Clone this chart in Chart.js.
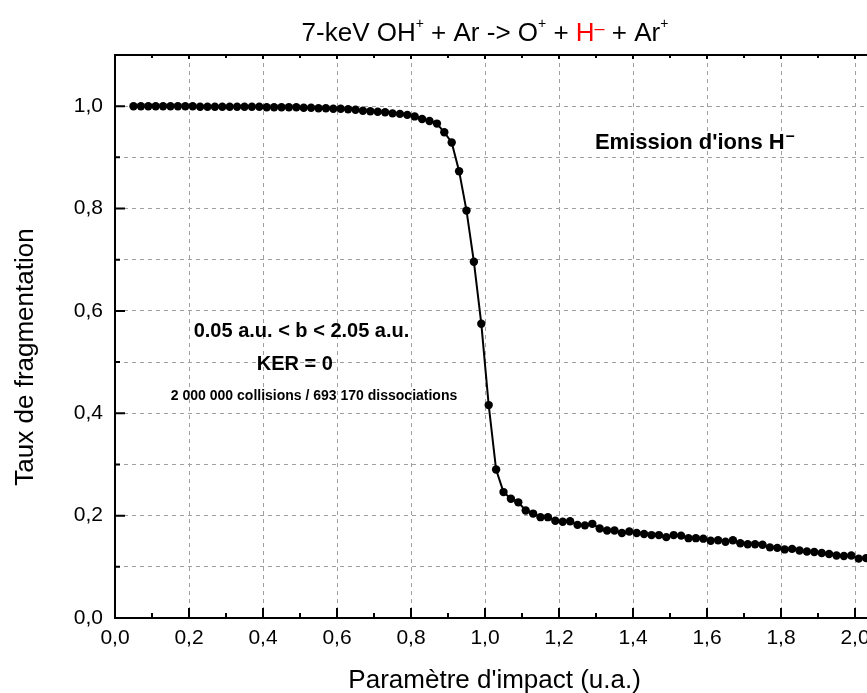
<!DOCTYPE html>
<html>
<head>
<meta charset="utf-8">
<script src="https://cdn.jsdelivr.net/npm/chart.js@4"></script>
<style>
  html, body { margin: 0; padding: 0; background: #fff; overflow: hidden; }
  canvas { display: block; }
</style>
</head>
<body>
<canvas id="chart" width="920" height="693"></canvas>
<script>
// paramètre d'impact b (u.a.)
const bValues = [
  0.05, 0.07, 0.09, 0.11, 0.13, 0.15, 0.17, 0.19, 0.21, 0.23,
  0.25, 0.27, 0.29, 0.31, 0.33, 0.35, 0.37, 0.39, 0.41, 0.43,
  0.45, 0.47, 0.49, 0.51, 0.53, 0.55, 0.57, 0.59, 0.61, 0.63,
  0.65, 0.67, 0.69, 0.71, 0.73, 0.75, 0.77, 0.79, 0.81, 0.83,
  0.85, 0.87, 0.89, 0.91, 0.93, 0.95, 0.97, 0.99, 1.01, 1.03,
  1.05, 1.07, 1.09, 1.11, 1.13, 1.15, 1.17, 1.19, 1.21, 1.23,
  1.25, 1.27, 1.29, 1.31, 1.33, 1.35, 1.37, 1.39, 1.41, 1.43,
  1.45, 1.47, 1.49, 1.51, 1.53, 1.55, 1.57, 1.59, 1.61, 1.63,
  1.65, 1.67, 1.69, 1.71, 1.73, 1.75, 1.77, 1.79, 1.81, 1.83,
  1.85, 1.87, 1.89, 1.91, 1.93, 1.95, 1.97, 1.99, 2.01, 2.03,
  2.05
];
// taux de fragmentation
const tauxValues = [
  1.000, 1.000, 1.000, 1.000, 1.000, 1.000, 1.000, 1.000, 1.000, 0.999,
  0.999, 0.999, 0.999, 0.999, 0.999, 0.999, 0.999, 0.999, 0.998, 0.998,
  0.998, 0.998, 0.998, 0.997, 0.997, 0.996, 0.996, 0.995, 0.995, 0.994,
  0.993, 0.991, 0.990, 0.989, 0.988, 0.986, 0.985, 0.983, 0.980, 0.975,
  0.971, 0.966, 0.949, 0.929, 0.873, 0.796, 0.696, 0.575, 0.416, 0.290,
  0.246, 0.233, 0.226, 0.210, 0.204, 0.197, 0.197, 0.190, 0.188, 0.189,
  0.182, 0.181, 0.184, 0.175, 0.171, 0.171, 0.166, 0.169, 0.166, 0.164,
  0.162, 0.162, 0.158, 0.162, 0.161, 0.156, 0.156, 0.155, 0.151, 0.152,
  0.149, 0.152, 0.146, 0.144, 0.144, 0.143, 0.138, 0.137, 0.134, 0.135,
  0.132, 0.130, 0.129, 0.127, 0.125, 0.122, 0.121, 0.122, 0.116, 0.117,
  0.113
];

const xTicks = [0, 0.2, 0.4, 0.6, 0.8, 1.0, 1.2, 1.4, 1.6, 1.8, 2.0];
const xMinor = [0.1, 0.3, 0.5, 0.7, 0.9, 1.1, 1.3, 1.5, 1.7, 1.9];
const yTicks = [0, 0.2, 0.4, 0.6, 0.8, 1.0];
const yMinor = [0.1, 0.3, 0.5, 0.7, 0.9];

const FONT = "'Liberation Sans', Arial, sans-serif";
const fmt = v => v.toFixed(1).replace('.', ',');

// textes sur le graphe (en coordonnées des axes)
const notes = [
  { text: '0.05 a.u. < b < 2.05 a.u.', x: 0.504, y: 0.560, size: 20 },
  { text: 'KER = 0', x: 0.486, y: 0.495, size: 20 },
  { text: '2 000 000 collisions / 693 170 dissociations', x: 0.538, y: 0.433, size: 14 }
];

const decorPlugin = {
  id: 'decor',
  afterDraw(chart) {
    const ctx = chart.ctx;
    const xs = chart.scales.x, ys = chart.scales.y;
    const a = chart.chartArea;
    ctx.save();
    ctx.strokeStyle = '#000';

    // cadre haut + droit
    ctx.lineWidth = 2;
    ctx.beginPath();
    ctx.moveTo(a.left - 1, a.top);
    ctx.lineTo(a.right, a.top);
    ctx.lineTo(a.right, a.bottom);
    ctx.stroke();

    // graduations vers l'intérieur
    ctx.lineWidth = 2;
    ctx.beginPath();
    xTicks.forEach(v => {
      const p = xs.getPixelForValue(v);
      ctx.moveTo(p, a.bottom); ctx.lineTo(p, a.bottom - 10);
      ctx.moveTo(p, a.top); ctx.lineTo(p, a.top + 4);
    });
    xMinor.forEach(v => {
      const p = xs.getPixelForValue(v);
      ctx.moveTo(p, a.bottom); ctx.lineTo(p, a.bottom - 5);
      ctx.moveTo(p, a.top); ctx.lineTo(p, a.top + 3);
    });
    yTicks.forEach(v => {
      const p = ys.getPixelForValue(v);
      ctx.moveTo(a.left, p); ctx.lineTo(a.left + 10, p);
    });
    yMinor.forEach(v => {
      const p = ys.getPixelForValue(v);
      ctx.moveTo(a.left, p); ctx.lineTo(a.left + 5, p);
    });
    ctx.stroke();

    ctx.fillStyle = '#000';
    ctx.textBaseline = 'middle';

    // annotations
    ctx.textAlign = 'center';
    notes.forEach(n => {
      ctx.font = 'bold ' + n.size + 'px ' + FONT;
      ctx.fillText(n.text, xs.getPixelForValue(n.x), ys.getPixelForValue(n.y));
    });

    // Emission d'ions H-
    ctx.textAlign = 'left';
    ctx.font = 'bold 22px ' + FONT;
    let ex = xs.getPixelForValue(1.297), ey = ys.getPixelForValue(0.929);
    ctx.fillText("Emission d'ions H", ex, ey);
    ex += ctx.measureText("Emission d'ions H").width + 1;
    ctx.font = 'bold 16px ' + FONT;
    ctx.fillText('\u2013', ex, ey - 6);

    // titre
    const parts = [
      { t: '7-keV OH', c: '#000' }, { t: '+', c: '#000', sup: true },
      { t: ' + Ar -> O', c: '#000' }, { t: '+', c: '#000', sup: true },
      { t: ' + ', c: '#000' }, { t: 'H', c: '#f00' }, { t: '\u2013', c: '#f00', dash: true },
      { t: ' + Ar', c: '#000' }, { t: '+', c: '#000', sup: true }
    ];
    const fontFor = p => (p.sup ? '14px ' : (p.dash ? '18px ' : '26px ')) + FONT;
    let total = 0;
    parts.forEach(p => { ctx.font = fontFor(p); total += ctx.measureText(p.t).width; });
    let tx = xs.getPixelForValue(1.0) - total / 2;
    const base = 41;
    ctx.textBaseline = 'alphabetic';
    parts.forEach(p => {
      ctx.font = fontFor(p);
      ctx.fillStyle = p.c;
      const dy = p.sup ? -13 : (p.dash ? -7 : 0);
      ctx.fillText(p.t, tx, base + dy);
      tx += ctx.measureText(p.t).width;
    });

    // titres des axes
    ctx.fillStyle = '#000';
    ctx.font = '26px ' + FONT;
    ctx.textAlign = 'center';
    ctx.textBaseline = 'alphabetic';
    ctx.fillText("Paramètre d'impact (u.a.)", xs.getPixelForValue(1.026), 688);
    ctx.save();
    ctx.translate(33, 357);
    ctx.rotate(-Math.PI / 2);
    ctx.fillText('Taux de fragmentation', 0, 0);
    ctx.restore();

    ctx.restore();
  }
};

new Chart(document.getElementById('chart'), {
  type: 'line',
  data: {
    labels: bValues,
    datasets: [{
      data: bValues.map((b, i) => ({ x: b, y: tauxValues[i] })),
      borderColor: '#000',
      borderWidth: 2,
      backgroundColor: '#000',
      pointRadius: 4.2,
      pointBorderWidth: 0,
      pointBackgroundColor: '#000',
      tension: 0,
      fill: false
    }]
  },
  options: {
    responsive: false,
    animation: false,
    layout: { padding: { top: 55, right: 28, left: 0, bottom: 0 } },
    plugins: { legend: { display: false }, tooltip: { enabled: false } },
    scales: {
      x: {
        type: 'linear',
        min: 0, max: 2.1,
        afterBuildTicks: s => { s.ticks = xTicks.map(v => ({ value: v })); },
        afterFit: s => { s.height = 75; },
        ticks: {
          callback: v => fmt(v),
          font: { family: FONT, size: 21 }, color: '#000',
          padding: 8, maxRotation: 0, autoSkip: false
        },
        grid: { color: '#a0a0a0', lineWidth: 1, drawTicks: false },
        border: { display: true, color: '#000', width: 2, dash: [4, 4] }
      },
      y: {
        min: 0, max: 1.1,
        afterBuildTicks: s => {
          s.ticks = yTicks.concat(yMinor).concat([1.1]).sort((p, q) => p - q).map(v => ({ value: v }));
        },
        afterFit: s => { s.width = 115; },
        ticks: {
          callback: v => (yTicks.some(t => Math.abs(t - v) < 1e-6) ? fmt(v) : ''),
          font: { family: FONT, size: 21 }, color: '#000',
          padding: 12, autoSkip: false
        },
        grid: { color: '#a0a0a0', lineWidth: 1, drawTicks: false },
        border: { display: true, color: '#000', width: 2, dash: [4, 4] }
      }
    }
  },
  plugins: [decorPlugin]
});
</script>
</body>
</html>
